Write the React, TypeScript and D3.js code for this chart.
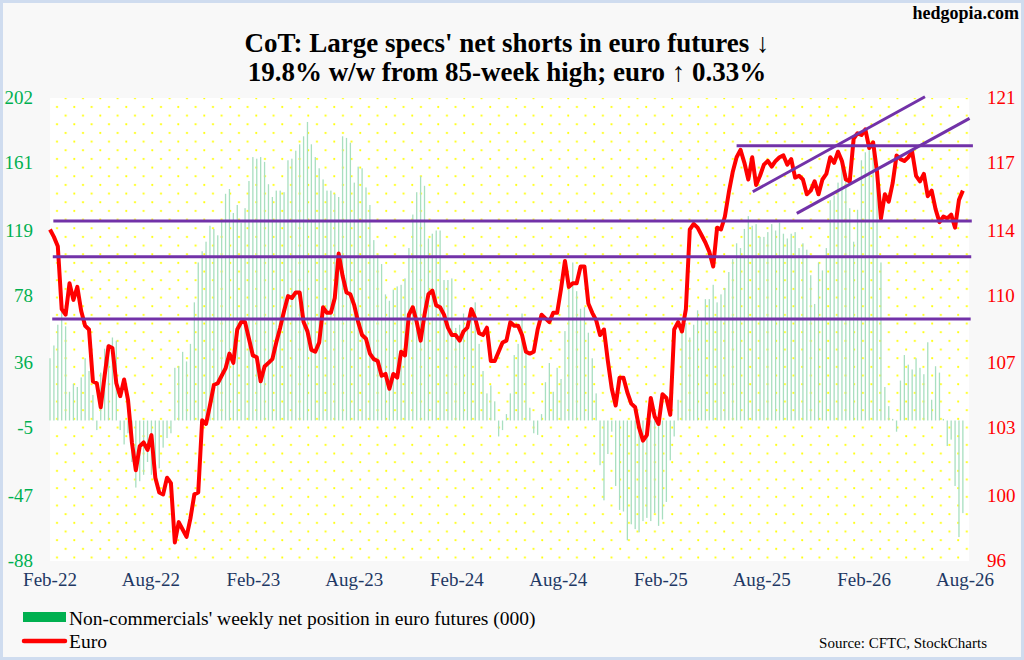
import React, { useEffect, useRef, FC } from "react";
import * as d3 from "d3";

// weekly series, first week = Feb 1 2022
const startDate = new Date(2022, 1, 1);

// non-commercials' net position in euro futures (000)
const netPosition: number[] = [
  39, 47, 60, 68, 59, 18, 23, 21, 27, 39,
  31, 16, -6, 30, 45, 48, 52, 50, -6, -15,
  -8, -26, -42, -38, -34, -26, -34, -30, -30, -17,
  -11, -8, 33, 34, 43, 37, 48, 74, 99, 106,
  112, 122, 120, 116, 125, 142, 145, 130, 135, 124,
  133, 150, 165, 164, 165, 162, 148, 140, 144, 144,
  143, 163, 164, 169, 173, 178, 187, 173, 165, 158,
  151, 144, 144, 142, 140, 178, 177, 174, 149, 159,
  158, 146, 135, 113, 104, 98, 79, 75, 82, 84,
  85, 89, 108, 129, 143, 153, 147, 114, 117, 119,
  119, 88, 88, 89, 58, 60, 67, 58, 70, 74,
  48, 31, 17, 22, 12, -10, -6, 4, 17, 41,
  48, 67, 46, 8, -8, -9, 4, 24, 36, 18,
  33, 26, 56, 84, 99, 81, 70, 71, 55, 39,
  17, -28, -50, -21, -7, -41, -56, -57, -75, -65,
  -68, -70, -63, -61, -63, -58, -66, -62, -51, -25,
  -10, 13, 56, 61, 52, 60, 69, 64, 76, 76,
  85, 74, 79, 83, 93, 101, 111, 108, 120, 128,
  122, 123, 115, 115, 118, 123, 119, 124, 117, 114,
  117, 118, 108, 111, 107, 91, 73, 99, 94, 108,
  138, 141, 149, 163, 155, 133, 112, 132, 163, 168,
  173, 171, 156, 99, 21, 9, 1, -7, 25, 41,
  35, 32, 39, 33, 29, 49, 13, 34, 30, 1,
  -16, -12, -41, -73, -58,
];

// euro (US cents)
const euro: number[] = [
  113.9, 113.5, 113.0, 109.6, 109.3, 111.0, 110.1, 110.8, 109.5, 108.7,
  108.5, 105.7, 105.6, 104.3, 106.0, 107.6, 107.5, 105.6, 104.9, 105.8,
  104.7, 102.4, 100.9, 102.2, 102.4, 102.0, 102.8, 100.5, 99.7, 99.6,
  100.5, 100.2, 97.0, 98.1, 97.7, 97.3, 98.3, 99.6, 99.7, 103.6,
  103.4, 104.4, 105.5, 105.6, 106.0, 106.4, 107.2, 106.7, 108.5, 108.9,
  108.9, 108.0, 107.1, 107.0, 105.7, 106.5, 106.7, 106.9, 107.8, 108.6,
  109.5, 110.3, 110.2, 110.5, 110.5, 108.9, 108.4, 107.4, 107.3, 107.8,
  109.7, 109.4, 109.4, 110.2, 112.6, 111.4, 110.5, 110.4, 109.8, 108.9,
  108.2, 108.0, 107.2, 106.9, 106.8, 106.0, 106.1, 105.3, 106.1, 105.9,
  107.3, 107.1, 109.3, 109.7, 108.9, 107.9, 109.3, 110.4, 110.6, 109.8,
  109.7, 109.3, 108.6, 108.2, 108.2, 107.9, 108.4, 108.6, 109.6, 109.1,
  108.3, 108.2, 108.6, 106.8, 106.8, 107.3, 107.8, 107.9, 108.9, 108.7,
  108.7, 108.2, 107.3, 107.2, 107.3, 108.5, 109.3, 109.1, 108.9, 109.4,
  109.4, 110.7, 112.2, 110.8, 111.0, 111.0, 111.9, 111.9, 109.9, 109.4,
  109.0, 108.2, 108.5, 106.8, 105.3, 104.4, 105.9, 105.9, 105.1, 104.5,
  104.3, 103.2, 102.5, 102.8, 104.8, 103.8, 103.4, 105.0, 104.8, 103.9,
  108.5, 108.9, 108.4, 109.6, 113.9, 114.2, 114.0, 113.6, 113.2, 112.7,
  111.9, 114.0, 113.9, 114.6, 115.9, 117.0, 117.8, 118.2, 117.5, 116.6,
  117.8, 116.3, 116.8, 117.4, 117.6, 117.3, 117.6, 117.8, 117.9, 117.4,
  117.7, 116.7, 116.8, 116.6, 115.8, 116.0, 116.5, 115.8, 116.6, 116.9,
  117.8, 117.5, 118.1, 117.6, 116.6, 116.5, 118.8, 119.1, 119.0, 119.3,
  118.3, 118.6, 117.0, 114.5, 115.8, 115.4, 116.4, 117.9, 117.7, 117.6,
  117.8, 118.1, 116.8, 116.5, 116.9, 115.7, 116.0, 115.0, 114.3, 114.6,
  114.5, 114.7, 114.0, 115.5, 116.0,
];

const leftTicks = [202, 161, 119, 78, 36, -5, -47, -88];
const rightTicks = [121, 117, 114, 110, 107, 103, 100, 96];
const xTickLabels = ["Feb-22", "Aug-22", "Feb-23", "Aug-23", "Feb-24", "Aug-24", "Feb-25", "Aug-25", "Feb-26", "Aug-26"];

// purple support/resistance lines on the euro scale
const levelLines = [
  { from: "2025-06-17", to: "2026-08-15", a: 118.42, b: 118.42 },
  { from: "2022-02-07", to: "2026-08-13", a: 114.36, b: 114.36 },
  { from: "2022-02-06", to: "2026-08-12", a: 112.43, b: 112.43 },
  { from: "2022-02-05", to: "2026-08-11", a: 109.07, b: 109.07 },
  { from: "2025-07-16", to: "2026-05-21", a: 115.94, b: 121.07 },
  { from: "2025-10-03", to: "2026-08-09", a: 114.77, b: 119.9 },
];

const W = 1024;
const H = 660;
const margin = { left: 50, right: 55, top: 98, bottom: 99 };
const serif = "'Liberation Serif', 'Times New Roman', serif";

const App: FC = () => {
  const svgRef = useRef<SVGSVGElement>(null);

  useEffect(() => {
    const svg = d3.select(svgRef.current);
    svg.selectAll("*").remove();

    const x = d3
      .scaleTime()
      .domain([new Date(2022, 1, 1), new Date(2026, 7, 8)])
      .range([margin.left, W - margin.right]);
    const yL = d3.scaleLinear().domain([-88, 202]).range([H - margin.bottom, margin.top]);
    const yR = d3.scaleLinear().domain([96, 121]).range([H - margin.bottom, margin.top]);
    const parse = d3.timeParse("%Y-%m-%d");
    const parseTick = d3.timeParse("%b-%y");
    const dates = netPosition.map((_, i) => d3.timeDay.offset(startDate, 7 * i));

    // page background + frame
    svg.append("rect").attr("x", 1.5).attr("y", 1.5).attr("width", W - 3).attr("height", H - 3)
      .attr("fill", "#f8f8f8").attr("stroke", "#cfdcef").attr("stroke-width", 3);

    // dotted plot background
    const defs = svg.append("defs");
    const pat = defs.append("pattern").attr("id", "dots").attr("patternUnits", "userSpaceOnUse")
      .attr("width", 17.33).attr("height", 17.33);
    pat.append("circle").attr("cx", 5).attr("cy", 3).attr("r", 1.1).attr("fill", "#ffff00");
    pat.append("circle").attr("cx", 13.67).attr("cy", 11.67).attr("r", 1.1).attr("fill", "#ffff00");
    const pw = W - margin.left - margin.right;
    const ph = H - margin.top - margin.bottom;
    svg.append("rect").attr("x", margin.left).attr("y", margin.top).attr("width", pw).attr("height", ph).attr("fill", "#fff");
    svg.append("rect").attr("x", margin.left).attr("y", margin.top).attr("width", pw).attr("height", ph).attr("fill", "url(#dots)");

    // net position bars
    svg.append("g").selectAll("rect").data(netPosition).join("rect")
      .attr("x", (d, i) => x(dates[i]) - 0.65)
      .attr("width", 1.3)
      .attr("y", (d) => yL(Math.max(0, d)))
      .attr("height", (d) => Math.abs(yL(d) - yL(0)))
      .attr("fill", "#a8dfc0");

    // euro line
    const line = d3.line<number>().x((d, i) => x(dates[i])).y((d) => yR(d));
    svg.append("path").datum(euro).attr("d", line).attr("fill", "none")
      .attr("stroke", "#ff0000").attr("stroke-width", 4).attr("stroke-linejoin", "round");

    // purple lines
    svg.append("g").selectAll("line").data(levelLines).join("line")
      .attr("x1", (d) => x(parse(d.from) as Date)).attr("x2", (d) => x(parse(d.to) as Date))
      .attr("y1", (d) => yR(d.a)).attr("y2", (d) => yR(d.b))
      .attr("stroke", "#7232a8").attr("stroke-width", 3);

    // left axis labels
    svg.append("g").selectAll("text").data(leftTicks).join("text")
      .attr("x", 33).attr("y", (d) => yL(d) + 6).attr("text-anchor", "end")
      .attr("font-family", serif).attr("font-size", 19).attr("fill", "#00b050").text((d) => d);

    // right axis labels share the left tick positions
    svg.append("g").selectAll("text").data(rightTicks).join("text")
      .attr("x", 987).attr("y", (d, i) => yL(leftTicks[i]) + 6)
      .attr("font-family", serif).attr("font-size", 19).attr("fill", "#ff0000").text((d) => d);

    // x axis labels
    svg.append("g").selectAll("text").data(xTickLabels).join("text")
      .attr("x", (d) => x(parseTick(d) as Date)).attr("y", 586).attr("text-anchor", "middle")
      .attr("font-family", serif).attr("font-size", 19).attr("fill", "#1f3864").text((d) => d);

    // titles
    svg.append("text").attr("x", 1019).attr("y", 19).attr("text-anchor", "end")
      .attr("font-family", serif).attr("font-weight", "bold").attr("font-size", 18).text("hedgopia.com");
    const title = svg.append("text").attr("text-anchor", "middle").attr("font-family", serif)
      .attr("font-weight", "bold").attr("font-size", 27).attr("fill", "#000");
    title.append("tspan").attr("x", 507).attr("y", 52).text("CoT: Large specs' net shorts in euro futures ↓");
    title.append("tspan").attr("x", 507).attr("y", 81).text("19.8% w/w from 85-week high; euro ↑ 0.33%");

    // legend
    svg.append("rect").attr("x", 23).attr("y", 612).attr("width", 43).attr("height", 10).attr("fill", "#00b050");
    svg.append("text").attr("x", 69).attr("y", 625).attr("font-family", serif).attr("font-size", 19.5)
      .text("Non-commercials' weekly net position in euro futures (000)");
    svg.append("line").attr("x1", 24).attr("x2", 65).attr("y1", 641).attr("y2", 641)
      .attr("stroke", "#ff0000").attr("stroke-width", 4.5).attr("stroke-linecap", "round");
    svg.append("text").attr("x", 69).attr("y", 648).attr("font-family", serif).attr("font-size", 19.5).text("Euro");
    svg.append("text").attr("x", 987).attr("y", 648).attr("text-anchor", "end").attr("font-family", serif)
      .attr("font-size", 15).text("Source: CFTC, StockCharts");
  }, []);

  return (
    <div style={{ position: "absolute", left: 0, top: 0 }}>
      <svg ref={svgRef} width={W} height={H} viewBox={`0 0 ${W} ${H}`}></svg>
    </div>
  );
};

export default App;
